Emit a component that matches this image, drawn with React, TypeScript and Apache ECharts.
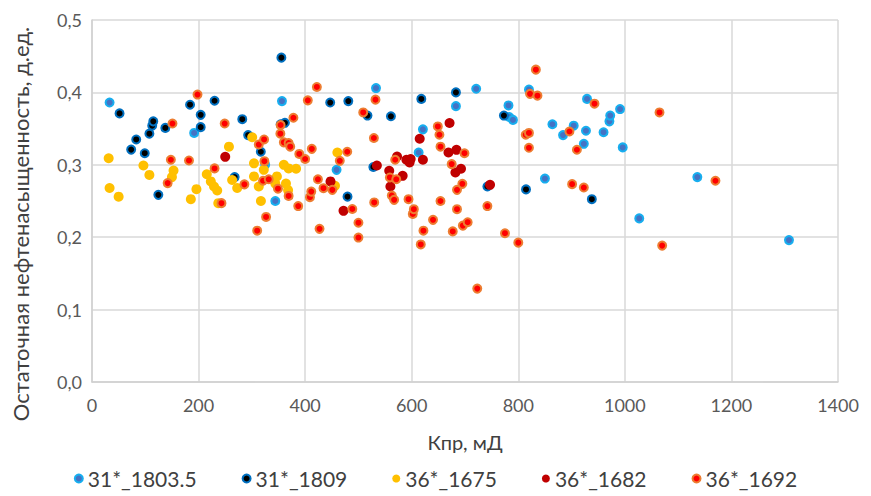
import React, { useEffect, useRef } from "react";
import * as echarts from "echarts";

const xTicks = [0, 200, 400, 600, 800, 1000, 1200, 1400];
const yTicks = [0, 0.1, 0.2, 0.3, 0.4, 0.5];

const s1803: number[][] = [
  [33, 0.386], [191.7, 0.344], [325, 0.300], [344, 0.25], [356.5, 0.388], [459, 0.293], [533, 0.406],
  [613, 0.317], [621, 0.349], [683, 0.381], [721, 0.405], [781.6, 0.382], [783, 0.366], [790, 0.362],
  [820, 0.404], [850, 0.281], [864, 0.356], [884, 0.341], [904, 0.354], [923, 0.329], [927, 0.347],
  [929, 0.391], [960, 0.345], [971, 0.36], [972.5, 0.368], [991, 0.377], [996, 0.324], [1027, 0.226],
  [1136, 0.283], [1308, 0.196],
];

const s1809: number[][] = [
  [51.7, 0.371], [73.5, 0.321], [83, 0.335], [99, 0.316], [107.7, 0.343], [113, 0.354], [115, 0.36],
  [124.5, 0.2585], [137.6, 0.351], [184, 0.383], [204, 0.369], [204, 0.352], [230, 0.3885],
  [267.7, 0.283], [282, 0.363], [293, 0.341], [316.8, 0.318], [354, 0.356], [362, 0.358],
  [355.4, 0.448], [447, 0.386], [479.5, 0.256], [481, 0.388], [517, 0.368], [528, 0.297], [561, 0.367],
  [618, 0.391], [683, 0.4], [742, 0.27], [773, 0.368], [814.5, 0.266], [938, 0.2525],
];

const s1675: number[][] = [
  [31.3, 0.309], [33, 0.268], [50, 0.256], [96.5, 0.299], [107.7, 0.286], [150, 0.283], [153, 0.292],
  [185.5, 0.2525], [196, 0.2664], [215.4, 0.287], [223, 0.277], [229, 0.27], [235, 0.2645], [237, 0.247],
  [257, 0.325], [263, 0.279], [272.5, 0.268], [300.6, 0.338], [304, 0.302], [304, 0.284], [313, 0.27],
  [317, 0.25], [322.4, 0.293], [344, 0.274], [347, 0.284], [360, 0.3], [364, 0.274], [368, 0.265],
  [369, 0.295], [383, 0.2945], [456, 0.271], [460.5, 0.317],
];

const s1682: number[][] = [
  [250, 0.311], [447.6, 0.277], [472, 0.2364], [534.6, 0.299], [557.8, 0.2917], [560, 0.27],
  [572.5, 0.3115], [583, 0.2848], [590, 0.307], [596, 0.3033], [598, 0.308], [615, 0.336], [621, 0.307],
  [669, 0.317], [671, 0.3577], [682, 0.2894], [684, 0.3207], [692.5, 0.2945], [747, 0.2723],
];

const s1692: number[][] = [
  [142, 0.2747], [148, 0.307], [151, 0.357], [182, 0.306], [198, 0.397], [230, 0.295], [243, 0.247],
  [249, 0.357], [286, 0.273], [310, 0.209], [313, 0.328], [321, 0.278], [323, 0.335], [323.5, 0.305],
  [326.7, 0.228], [331.7, 0.28], [349, 0.267], [353.5, 0.343], [354, 0.355], [360, 0.331], [369, 0.33],
  [372, 0.325], [378, 0.365], [387, 0.243], [369, 0.257], [389, 0.315], [400, 0.308], [405, 0.389],
  [409, 0.2553], [411.5, 0.263], [412.5, 0.322], [422, 0.4075], [424, 0.28], [427, 0.2115],
  [434.4, 0.2677], [451, 0.2654], [465, 0.3055], [479, 0.318], [488.5, 0.239], [500, 0.22],
  [500, 0.1995], [509, 0.3723], [529, 0.337], [529.6, 0.248], [532, 0.39], [559, 0.2825],
  [562.6, 0.2575], [567, 0.2516], [569, 0.307], [571, 0.28], [594, 0.2525], [602, 0.2322],
  [604, 0.2387], [617, 0.19], [622, 0.209], [640, 0.224], [649, 0.353], [652, 0.3415], [654, 0.325],
  [654, 0.25], [675, 0.301], [677, 0.208], [685, 0.2387], [685, 0.2654], [695, 0.2737], [696, 0.216],
  [699, 0.316], [705, 0.2207], [723, 0.129], [742, 0.243], [775, 0.2055], [800, 0.1925], [814, 0.3415],
  [820, 0.344], [820, 0.3235], [822, 0.398], [833, 0.4314], [836, 0.3955], [896, 0.346], [901, 0.2733],
  [910, 0.3208], [923, 0.2686], [943, 0.3844], [1065, 0.3723], [1070, 0.1884], [1170, 0.278],
];

const seriesNames = ["31*_1803.5", "31*_1809", "36*_1675", "36*_1682", "36*_1692"];
const seriesData = [s1803, s1809, s1675, s1682, s1692];
const innerColors = ["#4472C4", "#000000", "#FFC000", "#C00000", "#FF0000"];
const outerColors = ["#17AEEF", "#0070C0", "#FFC000", "#C00000", "#ED7D31"];

const yTitle = "Остаточная нефтенасыщенность, д.ед.";
const xTitle = "Кпр, мД";

const FONT = "Lato, 'Noto Sans', sans-serif";

export default function App() {
  const ref = useRef<HTMLDivElement>(null);
  useEffect(() => {
    if (!ref.current) return;
    const chart = echarts.init(ref.current, undefined, { renderer: "svg" });
    chart.setOption({
      animation: false,
      backgroundColor: "#ffffff",
      textStyle: { fontFamily: FONT },
      grid: { left: 92, right: 33, top: 20, bottom: 114 },
      graphic: [
        {
          type: "text",
          x: 20,
          y: 224,
          rotation: Math.PI / 2,
          style: {
            text: yTitle,
            fontSize: 22,
            fontFamily: FONT,
            fill: "#404040",
            align: "center",
            verticalAlign: "middle",
          },
        },
      ],
      xAxis: {
        type: "value",
        min: xTicks[0],
        max: xTicks[xTicks.length - 1],
        interval: 200,
        name: xTitle,
        nameLocation: "middle",
        nameGap: 50,
        nameTextStyle: { fontSize: 20, color: "#404040", fontFamily: FONT },
        axisLine: { show: true, lineStyle: { color: "#D0D0D0", width: 1.5 } },
        axisTick: { show: false },
        axisLabel: {
          fontSize: 18,
          color: "#595959",
          margin: 14,
          fontFamily: FONT,
          formatter: (v: number) => String(v),
        },
        splitLine: { show: true, lineStyle: { color: "#D9D9D9", width: 1.5 } },
      },
      yAxis: {
        type: "value",
        min: yTicks[0],
        max: yTicks[yTicks.length - 1],
        interval: 0.1,
        axisLine: { show: true, lineStyle: { color: "#D0D0D0", width: 1.5 } },
        axisTick: { show: false },
        axisLabel: {
          fontSize: 18,
          color: "#595959",
          margin: 10,
          fontFamily: FONT,
          formatter: (v: number) => v.toFixed(1).replace(".", ","),
        },
        splitLine: { show: true, lineStyle: { color: "#D9D9D9", width: 1.5 } },
      },
      legend: {
        bottom: 2,
        left: "center",
        icon: "circle",
        itemWidth: 8,
        itemHeight: 8,
        itemGap: 45,
        textStyle: { fontSize: 21, color: "#404040", fontFamily: FONT },
        data: seriesNames,
      },
      series: seriesNames.map((name, i) => ({
        name,
        type: "scatter",
        symbol: "circle",
        symbolSize: i === 2 || i === 3 ? 10 : 8,
        data: seriesData[i],
        itemStyle: {
          color: innerColors[i],
          borderColor: outerColors[i],
          borderWidth: i === 2 || i === 3 ? 0 : 2,
          opacity: 1,
        },
      })),
    });
    return () => chart.dispose();
  }, []);
  return (
    <div
      ref={ref}
      style={{ position: "fixed", left: 0, top: 0, width: 871, height: 496 }}
    />
  );
}
